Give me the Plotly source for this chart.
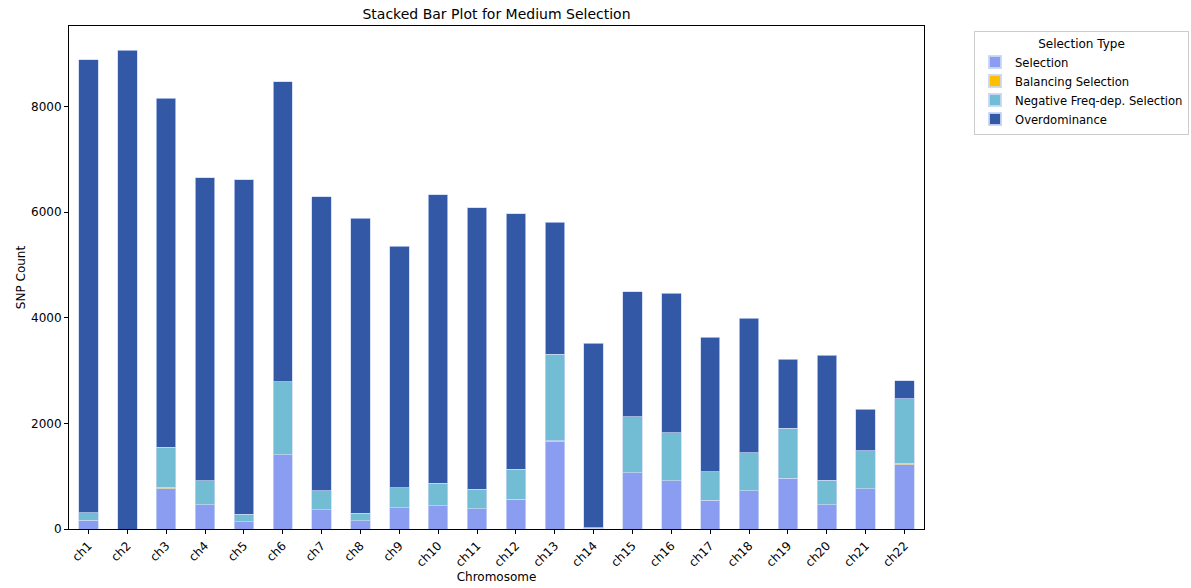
import plotly.graph_objects as go

chromosomes = [f"ch{i}" for i in range(1, 23)]
selection = [170, 0, 758, 455, 133, 1402, 360, 152, 398, 445, 379, 563, 1655, 10,
             1061, 915, 543, 720, 966, 461, 758, 1218]
balancing = [0, 0, 30, 0, 0, 0, 0, 0, 0, 0, 0, 0, 15, 0, 0, 0, 0, 0, 0, 0, 0, 30]
neg_freq = [139, 0, 760, 460, 145, 1388, 360, 145, 388, 421, 373, 568, 1639, 15,
            1061, 909, 537, 720, 941, 467, 726, 1215]
overdominance = [8581, 9065, 6612, 5734, 6339, 5683, 5569, 5588, 4569, 5461, 5329,
                 4836, 2503, 3498, 2376, 2641, 2557, 2551, 1307, 2362, 783, 341]

series = [
    ("Selection", selection, "#8a9df0"),
    ("Balancing Selection", balancing, "#ffbf00"),
    ("Negative Freq-dep. Selection", neg_freq, "#72bcd4"),
    ("Overdominance", overdominance, "#3358a6"),
]

fig = go.Figure()
for name, vals, color in series:
    fig.add_trace(go.Bar(
        x=chromosomes, y=vals, name=name,
        marker=dict(color=color, line=dict(color="rgba(200,215,245,0.9)", width=0.8)),
    ))

font = "DejaVu Sans, sans-serif"
W, H = 1191, 588
fig.update_layout(
    width=W, height=H,
    barmode="stack", bargap=0.5,
    plot_bgcolor="white", paper_bgcolor="white",
    margin=dict(l=69, r=267, t=26, b=59, autoexpand=False),
    font=dict(family=font, size=12, color="black"),
    title=dict(text="Stacked Bar Plot for Medium Selection", x=(69 + 924) / 2 / W,
               xanchor="center", xref="container", y=1 - 14 / H, yref="container",
               yanchor="middle", font=dict(size=14, family=font)),
    legend=dict(
        title=dict(text="Selection Type", side="top center", font=dict(size=12)),
        traceorder="normal",
        xref="container", yref="container",
        x=974 / W, y=1 - 31 / H, xanchor="left", yanchor="top",
        bordercolor="#cccccc", borderwidth=1,
        font=dict(size=11.6), itemsizing="constant",
        tracegroupgap=0,
    ),
    xaxis=dict(
        type="category", range=[-0.5, 21.5], tickangle=-45, automargin=False,
        showline=True, linecolor="black", linewidth=1, mirror=True,
        ticks="outside", ticklen=4, tickcolor="black", showgrid=False,
        title=dict(text="Chromosome", font=dict(size=12), standoff=2),
    ),
    yaxis=dict(
        range=[0, 9528], tickvals=[0, 2000, 4000, 6000, 8000], automargin=False,
        showline=True, linecolor="black", linewidth=1, mirror=True,
        ticks="outside", ticklen=4, tickcolor="black", showgrid=False, zeroline=False,
        title=dict(text="SNP Count", font=dict(size=12), standoff=2),
    ),
)

fig.write_html(
    "out.html",
    config={"displayModeBar": False},
    post_script="document.body.style.margin='0';document.body.style.overflow='hidden';",
)
